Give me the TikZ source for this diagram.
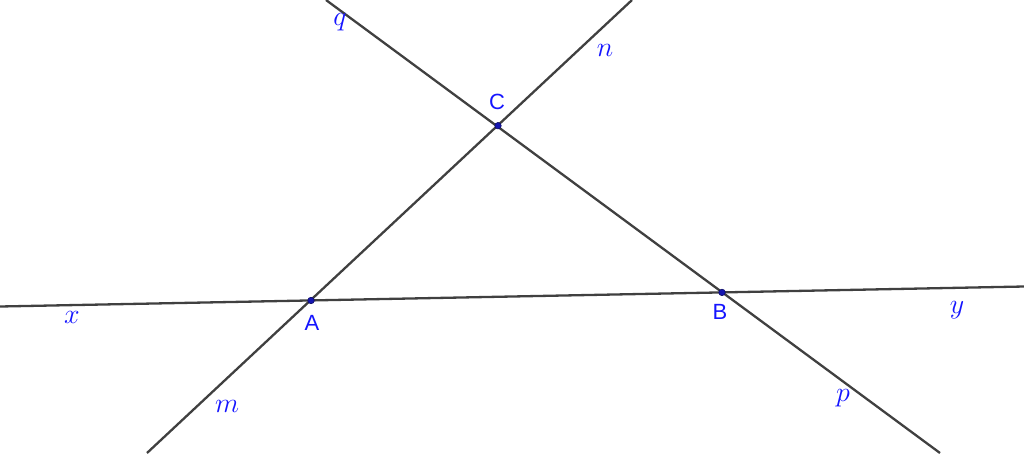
\RequirePackage{fix-cm}
\documentclass[tikz,border=0pt]{standalone}
\usepackage{fontspec}
\setsansfont{Liberation Sans}
\begin{document}
\begin{tikzpicture}[x=1pt,y=-1pt,
  geoline/.style={draw=linegray,line width=2.3pt},
  geopt/.style={circle,fill=ptblue,draw=ptblue!60!black,line width=0.6pt,inner sep=0pt,minimum size=6.5pt},
  ptlabel/.style={text=lblblue,font=\sffamily\fontsize{22}{25}\selectfont,inner sep=0pt},
  lnlabel/.style={text=lblblue,font=\fontsize{28}{32}\selectfont,inner sep=0pt}]
\definecolor{linegray}{HTML}{404040}
\definecolor{ptblue}{HTML}{1515B0}
\definecolor{lblblue}{HTML}{1515FF}
\useasboundingbox (0,0) rectangle (1024,453);
\coordinate (xe) at (0,306.5);
\coordinate (ye) at (1024,286.5);
\coordinate (me) at (147,453);
\coordinate (ne) at (632,0);
\coordinate (qe) at (326,0);
\coordinate (pe) at (940,453);
\draw[geoline] (xe) -- (ye);
\draw[geoline] (me) -- (ne);
\draw[geoline] (qe) -- (pe);
\node[geopt] (A) at (311,300.5) {};
\node[geopt] (B) at (722,292.4) {};
\node[geopt] (C) at (498,125.7) {};
\node[ptlabel] (lA) at (312,323) {A};
\node[ptlabel] (lB) at (720,312) {B};
\node[ptlabel] (lC) at (497,102) {C};
\node[lnlabel] (lq) at (340,22) {$q$};
\node[lnlabel] (ln) at (605,50) {$n$};
\node[lnlabel] (lx) at (72,317) {$x$};
\node[lnlabel] (ly) at (957,310) {$y$};
\node[lnlabel] (lm) at (227,406) {$m$};
\node[lnlabel] (lp) at (843,398) {$p$};
\end{tikzpicture}
\end{document}
